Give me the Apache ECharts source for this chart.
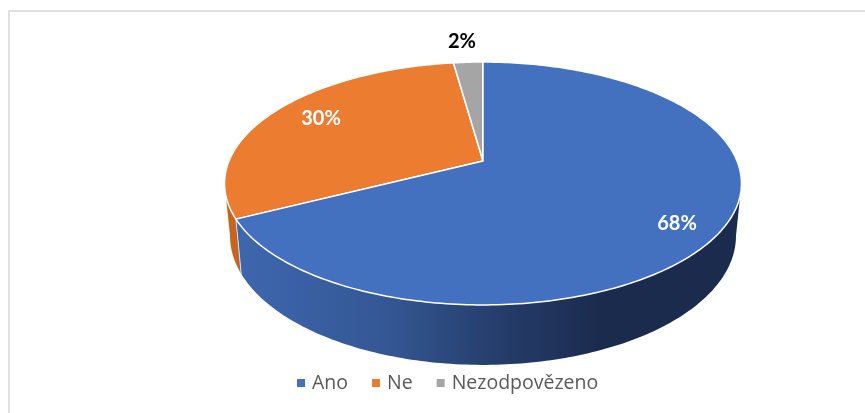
<!DOCTYPE html>
<html>
<head>
<meta charset="utf-8">
<style>
  html, body { margin: 0; padding: 0; background: #fff; }
  #chart { width: 865px; height: 413px; }
</style>
<script src="https://cdn.jsdelivr.net/npm/echarts@6/dist/echarts.min.js"></script>
</head>
<body>
<div id="chart"></div>
<script>
const categories = ['Ano', 'Ne', 'Nezodpovězeno'];
const values = [67.5, 30.3, 2.2];
const percentLabels = ['68%', '30%', '2%'];

const topColors = ['#4371BF', '#EB7C30', '#A5A5A5'];

// perspective of the top disc
const cx = 483, apexY = 161, spanX = 254;
const alpha = 87.5, gamma = -0.185;
const ellY = 183.5, ellA = 258.5, ellB = 121.5;
const lowY = 236, lowA = 253, lowB = 129;

function topPoint(theta) {
  const u = Math.sin(theta), v = -Math.cos(theta);
  const d = 1 + gamma * v;
  return [cx + spanX * u / d, (alpha * v + apexY) / d];
}

function lowPoint(theta) {
  const p = topPoint(theta);
  return [cx + (p[0] - cx) / ellA * lowA, lowY + (p[1] - ellY) / ellB * lowB];
}

// the wall only shows between the two widest points of the rim
const wallFrom = Math.PI - Math.acos(-gamma);
const wallTo = Math.PI + Math.acos(-gamma);

function arc(fn, a, b) {
  const pts = [];
  const n = Math.max(2, Math.ceil(Math.abs(b - a) * 60));
  for (let i = 0; i <= n; i++) pts.push(fn(a + (b - a) * i / n));
  return pts;
}

const labelSpots = [[677, 224], [321, 119], [462, 42]];
const labelColors = ['#fff', '#fff', '#000'];

function renderSlice(idx) {
  return function (params, api) {
    const start = api.value(0) / 100 * Math.PI * 2;
    const end = api.value(1) / 100 * Math.PI * 2;
    const children = [];

    const wallA = Math.max(start, wallFrom);
    const wallB = Math.min(end, wallTo);
    if (wallB > wallA) {
      const top = arc(topPoint, wallA, wallB);
      const low = arc(lowPoint, wallB, wallA);
      children.push({
        type: 'polygon',
        shape: { points: top.concat(low) },
        z2: 1,
        style: {
          fill: idx === 0
            ? new echarts.graphic.LinearGradient(0, 0, 1, 0, [
                { offset: 0, color: '#3E67AF' },
                { offset: 0.3, color: '#345794' },
                { offset: 0.5, color: '#263F6E' },
                { offset: 0.72, color: '#1B2B4E' },
                { offset: 1, color: '#1B2B4E' }
              ])
            : '#C5661F'
        }
      });
      if (idx === 0) {
        const a = topPoint(end), b = lowPoint(end);
        children.push({
          type: 'line',
          shape: { x1: a[0], y1: a[1], x2: b[0], y2: b[1] },
          z2: 2,
          style: { stroke: '#D9E0EE', lineWidth: 1 }
        });
      }
    }

    // top face
    children.push({
      type: 'polygon',
      shape: { points: [[cx, apexY]].concat(arc(topPoint, start, end)) },
      z2: 3,
      style: { fill: topColors[idx], stroke: '#fff', lineWidth: 1.5, lineJoin: 'round' }
    });

    children.push({
      type: 'text',
      z2: 4,
      style: {
        x: labelSpots[idx][0],
        y: labelSpots[idx][1],
        text: percentLabels[idx],
        fill: labelColors[idx],
        font: 'bold 20px Lato, sans-serif',
        align: 'center',
        verticalAlign: 'middle'
      }
    });
    return { type: 'group', children: children };
  };
}

let running = 0;
const series = categories.map(function (name, i) {
  const from = running;
  running += values[i];
  return {
    type: 'custom',
    name: name,
    coordinateSystem: 'none',
    renderItem: renderSlice(i),
    itemStyle: { color: topColors[i] },
    data: [[from, running]],
    z: i === 0 ? 3 : 2,
    animation: false,
    silent: true
  };
});

const myChart = echarts.init(document.getElementById('chart'));
myChart.setOption({
  animation: false,
  graphic: [{
    type: 'polyline',
    shape: { points: [[9, 413], [9, 11], [865, 11]] },
    style: { fill: 'none', stroke: '#E0E0E0', lineWidth: 2 },
    silent: true
  }],
  legend: {
    data: categories,
    left: 292,
    top: 368,
    icon: 'rect',
    itemWidth: 8,
    itemHeight: 8,
    itemGap: 24,
    textStyle: { color: '#595959', fontSize: 19.5, fontFamily: '"Open Sans", sans-serif', padding: [0, 0, 0, 2] }
  },
  series: series
});
</script>
</body>
</html>
